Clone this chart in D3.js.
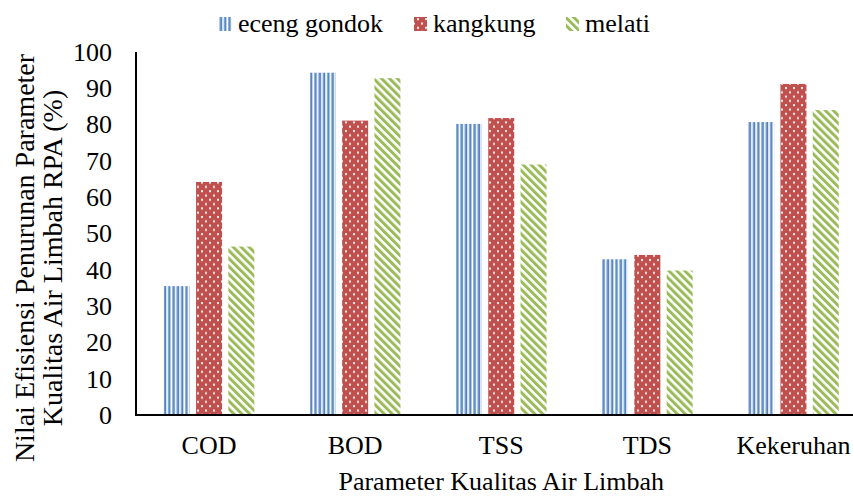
<!DOCTYPE html>
<html>
<head>
<meta charset="utf-8">
<script src="https://cdn.jsdelivr.net/npm/d3@7"></script>
<style>
html,body{margin:0;padding:0;background:#fff;}
text{font-family:"Liberation Serif","Times New Roman",serif;fill:#000;}
</style>
</head>
<body>
<svg id="chart" width="853" height="497"></svg>
<script>
const categories = ["COD", "BOD", "TSS", "TDS", "Kekeruhan"];
const seriesNames = ["eceng gondok", "kangkung", "melati"];
const ecengGondok = [35.5, 94.3, 80.2, 42.9, 80.7];
const kangkung = [64.2, 81.1, 81.8, 44.1, 91.2];
const melati = [46.4, 92.8, 69.0, 39.8, 84.0];
const yTicks = [0, 10, 20, 30, 40, 50, 60, 70, 80, 90, 100];
const xTitle = "Parameter Kualitas Air Limbah";
const yTitle = ["Nilai Efisiensi Penurunan Parameter", "Kualitas Air Limbah RPA (%)"];

const seriesValues = [ecengGondok, kangkung, melati];
const fontSize = 26;
const serif = '"Liberation Serif", "Times New Roman", serif';

const svg = d3.select("#chart");
const defs = svg.append("defs");

// Patterns
const pBlue = defs.append("pattern").attr("id", "p0").attr("patternUnits", "userSpaceOnUse")
  .attr("width", 4.3).attr("height", 4);
pBlue.append("rect").attr("width", 4.3).attr("height", 4).attr("fill", "#ffffff");
pBlue.append("rect").attr("x", 0).attr("width", 1).attr("height", 4).attr("fill", "#9ab8e0");
pBlue.append("rect").attr("x", 1).attr("width", 1.8).attr("height", 4).attr("fill", "#4f81bd");

const pRed = defs.append("pattern").attr("id", "p1").attr("patternUnits", "userSpaceOnUse")
  .attr("width", 8).attr("height", 8.6);
pRed.append("rect").attr("width", 8).attr("height", 8.6).attr("fill", "#c0504d");
pRed.append("rect").attr("x", 1).attr("y", 1).attr("width", 2).attr("height", 2).attr("fill", "#ffffff").attr("opacity", 0.9);
pRed.append("rect").attr("x", 5).attr("y", 5.3).attr("width", 2).attr("height", 2).attr("fill", "#ffffff").attr("opacity", 0.9);

const pGreen = defs.append("pattern").attr("id", "p2").attr("patternUnits", "userSpaceOnUse")
  .attr("width", 5.6).attr("height", 5.6).attr("patternTransform", "rotate(-45)");
pGreen.append("rect").attr("width", 5.6).attr("height", 5.6).attr("fill", "#ffffff");
pGreen.append("rect").attr("x", 0).attr("width", 3).attr("height", 5.6).attr("fill", "#9bbb59");

const fills = ["url(#p0)", "url(#p1)", "url(#p2)"];

// Scales
const plotLeft = 136, plotRight = 866.5, plotTop = 52, plotBottom = 415;
const x0 = d3.scaleBand().domain(categories).range([plotLeft, plotRight]).paddingInner(0).paddingOuter(0);
const groupW = 90.6;
const x1 = d3.scaleBand().domain(seriesNames).range([-groupW / 2, groupW / 2]).paddingInner(0.195).paddingOuter(0);
const y = d3.scaleLinear().domain([0, 100]).range([plotBottom, plotTop]);

// Bars
const g = svg.append("g");
seriesNames.forEach((s, si) => {
  g.selectAll(".bar" + si).data(categories).enter().append("rect")
    .attr("class", "bar" + si)
    .attr("x", (c) => x0(c) + x0.bandwidth() / 2 + x1(s))
    .attr("width", x1.bandwidth())
    .attr("y", (c, i) => y(seriesValues[si][i]))
    .attr("height", (c, i) => y(0) - y(seriesValues[si][i]))
    .attr("fill", fills[si]);
});

// Y axis
const yAxis = d3.axisLeft(y).tickValues(yTicks).tickSize(0).tickPadding(24).tickFormat(d3.format("d"));
const yG = svg.append("g").attr("transform", `translate(${plotLeft},0)`).call(yAxis);
yG.attr("font-family", null).attr("font-size", null);
yG.select(".domain").remove();
yG.selectAll("text").style("font-size", fontSize + "px").style("font-family", serif).attr("fill", "#000");

// X axis
const xAxis = d3.axisBottom(x0).tickSize(0).tickPadding(21);
const xG = svg.append("g").attr("transform", `translate(0,${plotBottom})`).call(xAxis);
xG.attr("font-family", null).attr("font-size", null);
xG.select(".domain").remove();
xG.selectAll("text").style("font-size", fontSize + "px").style("font-family", serif).attr("fill", "#000");

// Axis lines
svg.append("line").attr("x1", plotLeft).attr("x2", plotLeft).attr("y1", plotTop).attr("y2", plotBottom + 1)
  .attr("stroke", "#000").attr("stroke-width", 2);
svg.append("line").attr("x1", plotLeft - 1).attr("x2", 853).attr("y1", plotBottom).attr("y2", plotBottom)
  .attr("stroke", "#000").attr("stroke-width", 2);

// Titles
svg.append("text").attr("x", (plotLeft + plotRight) / 2).attr("y", 490).attr("text-anchor", "middle")
  .style("font-size", fontSize + "px").style("font-family", serif).text(xTitle);
yTitle.forEach((t, i) => {
  svg.append("text").attr("transform", `translate(${34 + i * 28},258) rotate(-90)`)
    .attr("text-anchor", "middle").style("font-size", "28px").style("font-family", serif).text(t);
});

// Legend
const legendX = [219, 414, 566];
seriesNames.forEach((s, i) => {
  svg.append("rect").attr("x", legendX[i]).attr("y", 17).attr("width", 13).attr("height", 14).attr("fill", fills[i]);
  svg.append("text").attr("x", legendX[i] + 19).attr("y", 32).style("font-size", fontSize + "px").style("font-family", serif).text(s);
});
</script>
</body>
</html>
